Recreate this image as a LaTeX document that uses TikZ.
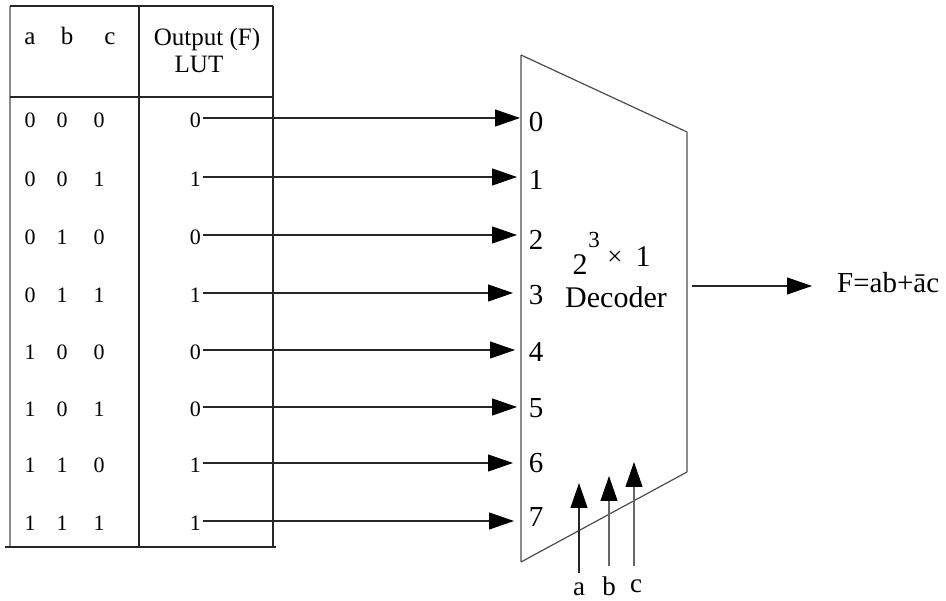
\documentclass[tikz,border=0pt]{standalone}
\usepackage{fontspec}
\setmainfont{Liberation Serif}
\usetikzlibrary{arrows.meta}
\begin{document}
\begin{tikzpicture}[x=1pt,y=-1pt,
  tline/.style={draw=black!85,line width=1.3pt},
  gline/.style={draw=black!45,line width=1.5pt},
  arr/.style={draw=black!85,line width=1.2pt,-{Triangle[length=25pt,width=17pt,fill=black,color=black]}},
  tdig/.style={font=\fontsize{22}{22}\selectfont,inner sep=0pt},
  thead/.style={font=\fontsize{25}{25}\selectfont,inner sep=0pt,anchor=base},
  dlab/.style={font=\fontsize{29}{29}\selectfont,inner sep=0pt},
  dtxt/.style={font=\fontsize{30}{30}\selectfont,inner sep=0pt}]
\useasboundingbox (0,0) rectangle (946,601);
% table
\draw[gline] (10,6) -- (10,547);
\draw[tline] (10,6) -- (273,6);
\draw[tline] (139,5) -- (139,547);
\draw[tline] (273,6) -- (273,547);
\draw[tline] (10,97) -- (273,97);
\draw[tline] (5,547) -- (276,547);
% header
\node[thead] (ha) at (30,45) {a};
\node[thead] (hb) at (67,45) {b};
\node[thead] (hc) at (110,45) {c};
\node[thead] (hout) at (207,46) {Output (F)};
\node[thead] (hlut) at (199,73) {LUT};
% rows
\foreach \i/\y/\a/\b/\c/\f/\tx in {0/118/0/0/0/0/520,1/177/0/0/1/1/517,2/235/0/1/0/0/517,3/293/0/1/1/1/513,4/350/1/0/0/0/515,5/407/1/0/1/0/517,6/463/1/1/0/1/513,7/521/1/1/1/1/514}{
  \node[tdig] (ra\i) at (30,\y+2) {\a};
  \node[tdig] (rb\i) at (62,\y+2) {\b};
  \node[tdig] (rc\i) at (99,\y+2) {\c};
  \node[tdig,anchor=east] (o\i) at (201,\y+2) {\f};
  \coordinate (s\i) at (203,\y);
  \coordinate (t\i) at (\tx,\y);
  \draw[arr] (s\i) -- (t\i);
}
% decoder
\draw[gline] (521,55) -- (521,562);
\draw[draw=black!70,line width=1.2pt] (521,55) -- (687,132);
\draw[gline] (687,132) -- (687,472);
\draw[draw=black!70,line width=1.2pt] (687,472) -- (521,562);
\foreach \i/\y in {0/122,1/180,2/240,3/295,4/352,5/408,6/463,7/517}{
  \node[dlab] (d\i) at (536,\y) {\i};
}
\node[dtxt,font=\fontsize{30}{30}\selectfont] (two) at (580,265) {2};
\node[dtxt,font=\fontsize{23}{23}\selectfont] (three) at (594,240) {3};
\node[dtxt,font=\fontsize{27}{27}\selectfont] (times) at (615,258) {×};
\node[dtxt,font=\fontsize{30}{30}\selectfont] (one) at (643,257) {1};
\node[dtxt,anchor=base] (dec) at (616,308) {Decoder};
% output
\coordinate (os) at (692,286);
\coordinate (oe) at (812,286);
\draw[arr] (os) -- (oe);
\node[dtxt,font=\fontsize{29}{29}\selectfont,anchor=base west] (F) at (837,293) {F=ab+\={a}c};
% select inputs
\coordinate (sa) at (579,573);
\coordinate (ta) at (579,483);
\coordinate (sb) at (609,566);
\coordinate (tb) at (609,476);
\coordinate (sc) at (634,566);
\coordinate (tc) at (634,462);
\draw[arr] (sa) -- (ta);
\draw[arr,draw=black!60] (sb) -- (tb);
\draw[arr,draw=black!60] (sc) -- (tc);
\node[thead,font=\fontsize{27}{27}\selectfont] (la) at (579,595) {a};
\node[thead,font=\fontsize{27}{27}\selectfont] (lb) at (609,595) {b};
\node[thead,font=\fontsize{27}{27}\selectfont] (lc) at (636,593) {c};
\end{tikzpicture}
\end{document}
